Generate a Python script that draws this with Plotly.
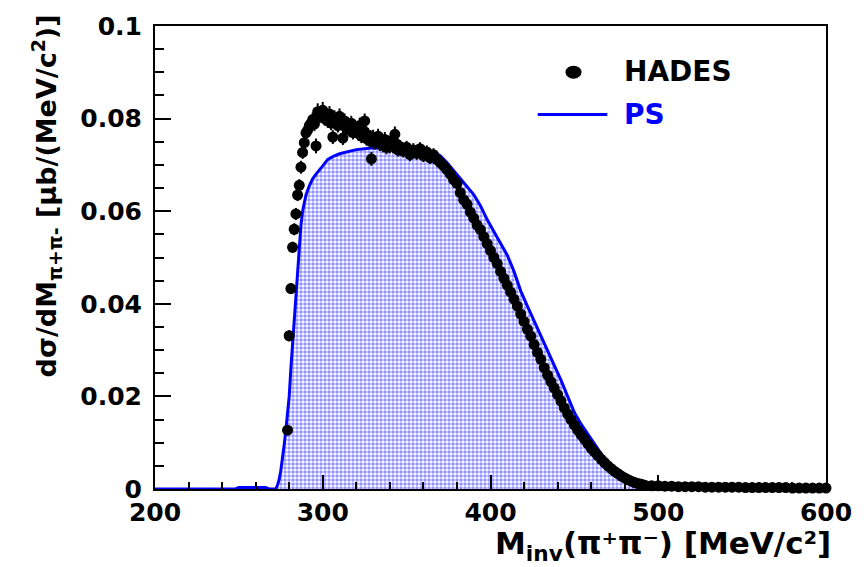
import plotly.graph_objects as go

# ---------------- data ----------------
# HADES data: invariant mass bins (MeV/c^2) and cross section (ub/(MeV/c^2))
hades_x1 = [279, 280, 281, 282, 283, 284, 285, 286, 287, 288, 289, 290,
            291, 292, 293, 294, 295, 296, 297, 298, 299, 300, 301, 302,
            303, 304, 305, 306, 307, 308, 309, 310, 311, 312, 313, 314,
            315, 316, 317, 318, 319, 320, 321, 322, 323, 324, 325, 326,
            327, 328, 329, 330, 331, 332, 333, 334, 335, 336, 337, 338,
            339, 340, 341, 342, 343, 344, 345, 346]
hades_y1 = [0.0127, 0.0331, 0.0433, 0.0522, 0.0561, 0.0594, 0.0635, 0.0656, 0.0695, 0.0727, 0.0748, 0.0769,
            0.0775, 0.0785, 0.0790, 0.0798, 0.0788, 0.0741, 0.0815, 0.0805, 0.0812, 0.0818, 0.0800, 0.0808,
            0.0795, 0.0810, 0.0790, 0.0760, 0.0802, 0.0795, 0.0785, 0.0805, 0.0790, 0.0758, 0.0795, 0.0780,
            0.0788, 0.0775, 0.0790, 0.0770, 0.0782, 0.0776, 0.0768, 0.0785, 0.0762, 0.0775, 0.0795, 0.0757,
            0.0765, 0.0752, 0.0713, 0.0760, 0.0748, 0.0755, 0.0762, 0.0745, 0.0750, 0.0742, 0.0755, 0.0738,
            0.0748, 0.0740, 0.0752, 0.0740, 0.0766, 0.0745, 0.0732, 0.0740]
hades_e1 = [0.0010, 0.0012, 0.0012, 0.0012, 0.0013, 0.0013, 0.0013, 0.0013, 0.0014, 0.0014, 0.0014, 0.0014,
            0.0015, 0.0015, 0.0016, 0.0015, 0.0015, 0.0016, 0.0018, 0.0015, 0.0016, 0.0018, 0.0015, 0.0016,
            0.0015, 0.0017, 0.0015, 0.0015, 0.0016, 0.0015, 0.0015, 0.0017, 0.0015, 0.0015, 0.0016, 0.0015,
            0.0015, 0.0015, 0.0016, 0.0015, 0.0015, 0.0016, 0.0015, 0.0017, 0.0015, 0.0015, 0.0016, 0.0015,
            0.0015, 0.0015, 0.0015, 0.0016, 0.0015, 0.0015, 0.0016, 0.0015, 0.0015, 0.0015, 0.0016, 0.0015,
            0.0015, 0.0015, 0.0015, 0.0015, 0.0017, 0.0015, 0.0014, 0.0014]

hades_x2 = [348, 350, 352, 354, 356, 358, 360, 362, 364, 366, 368, 370,
            372, 374, 376, 378, 380, 382, 384, 386, 388, 390, 392, 394,
            396, 398, 400, 402, 404, 406, 408, 410, 412, 414, 416, 418,
            420, 422, 424, 426, 428, 430, 432, 434, 436, 438, 440, 442,
            444, 446, 448, 450, 452, 454, 456, 458, 460, 462, 464, 466,
            468, 470, 472, 474, 476, 478, 480, 482, 484, 486, 488, 490]
hades_y2 = [0.0730, 0.0738, 0.0722, 0.0732, 0.0725, 0.0735, 0.0720, 0.0728, 0.0715, 0.0722, 0.0712, 0.0705,
            0.0698, 0.0690, 0.0680, 0.0668, 0.0660, 0.0640, 0.0625, 0.0615, 0.0598, 0.0585, 0.0570, 0.0560,
            0.0545, 0.0530, 0.0515, 0.0500, 0.0487, 0.0470, 0.0455, 0.0440, 0.0425, 0.0410, 0.0395, 0.0378,
            0.0362, 0.0345, 0.0330, 0.0312, 0.0295, 0.0280, 0.0262, 0.0246, 0.0232, 0.0218, 0.0204, 0.0190,
            0.0175, 0.0162, 0.0150, 0.0138, 0.0127, 0.0117, 0.0108, 0.0098, 0.0088, 0.0080, 0.0072, 0.0064,
            0.0057, 0.0050, 0.0044, 0.0038, 0.0033, 0.0028, 0.0024, 0.0020, 0.0017, 0.0014, 0.0012, 0.0010]
hades_e2 = [0.0014, 0.0014, 0.0014, 0.0015, 0.0014, 0.0014, 0.0014, 0.0014, 0.0013, 0.0014, 0.0013, 0.0013,
            0.0013, 0.0013, 0.0013, 0.0012, 0.0012, 0.0012, 0.0012, 0.0012, 0.0012, 0.0012, 0.0011, 0.0011,
            0.0011, 0.0011, 0.0011, 0.0011, 0.0010, 0.0010, 0.0010, 0.0010, 0.0010, 0.0010, 0.0010, 0.0010,
            0.0009, 0.0009, 0.0009, 0.0009, 0.0009, 0.0009, 0.0009, 0.0008, 0.0008, 0.0008, 0.0008, 0.0008,
            0.0008, 0.0008, 0.0007, 0.0007, 0.0007, 0.0007, 0.0007, 0.0007, 0.0006, 0.0006, 0.0006, 0.0006,
            0.0006, 0.0006, 0.0005, 0.0005, 0.0005, 0.0005, 0.0005, 0.0005, 0.0005, 0.0005, 0.0005, 0.0005]

hades_x3 = [492, 496, 500, 504, 508, 512, 516, 520, 524, 528, 532, 536, 540, 544,
            548, 552, 556, 560, 564, 568, 572, 576, 580, 584, 588, 592, 596, 600]
hades_y3 = [0.0008, 0.0007, 0.0007, 0.0006, 0.0006, 0.0005, 0.0005, 0.0005, 0.0005, 0.0004, 0.0004, 0.0004, 0.0004, 0.0004,
            0.0004, 0.0003, 0.0003, 0.0003, 0.0003, 0.0003, 0.0003, 0.0003, 0.0002, 0.0002, 0.0002, 0.0002, 0.0002, 0.0002]
hades_e3 = [0.0005, 0.0004, 0.0004, 0.0004, 0.0004, 0.0004, 0.0004, 0.0006, 0.0004, 0.0004, 0.0004, 0.0004, 0.0004, 0.0004,
            0.0004, 0.0004, 0.0004, 0.0004, 0.0005, 0.0004, 0.0004, 0.0004, 0.0004, 0.0004, 0.0004, 0.0004, 0.0004, 0.0004]

# Phase-space (PS) simulation
ps_x = [200, 248, 250, 266, 268, 272, 273, 274, 275, 276, 277, 278, 279, 280, 281, 282,
        283, 284, 285, 286, 287, 288, 290, 292, 294, 296, 298, 300, 303, 306, 310, 315,
        320, 325, 330, 340, 350, 360, 366, 370, 374, 378, 382, 386, 390, 394, 398, 402,
        406, 410, 414, 418, 422, 426, 430, 434, 438, 442, 446, 450, 454, 458, 462, 466,
        470, 474, 478, 482, 486, 490, 500, 600]
ps_y = [0.0, 0.0, 0.0003, 0.0003, 0.0, 0.0, 0.0008, 0.0020, 0.0040, 0.0065, 0.0095, 0.0127, 0.0160, 0.0200, 0.0260, 0.0310,
        0.0360, 0.0420, 0.0480, 0.0530, 0.0570, 0.0600, 0.0635, 0.0655, 0.0670, 0.0680, 0.0690, 0.0698, 0.0712, 0.0718, 0.0724, 0.0729,
        0.0733, 0.0735, 0.0737, 0.0735, 0.0733, 0.0730, 0.0728, 0.0720, 0.0705, 0.0688, 0.0670, 0.0655, 0.0636, 0.0612, 0.0582, 0.0556,
        0.0532, 0.0505, 0.0470, 0.0428, 0.0395, 0.0362, 0.0330, 0.0298, 0.0267, 0.0235, 0.0200, 0.0165, 0.0140, 0.0118, 0.0097, 0.0076,
        0.0057, 0.0040, 0.0024, 0.0012, 0.0005, 0.0, 0.0, 0.0]

x_ticks = [200, 300, 400, 500, 600]
y_ticks = [0, 0.02, 0.04, 0.06, 0.08, 0.1]
y_tick_text = ["0", "0.02", "0.04", "0.06", "0.08", "0.1"]

hades_x = hades_x1 + hades_x2 + hades_x3
hades_y = hades_y1 + hades_y2 + hades_y3
hades_e = hades_e1 + hades_e2 + hades_e3

# ---------------- figure ----------------
FONT = "DejaVu Sans"
W, H = 864, 567
L, R, T, B = 155, 34, 18, 78
PW, PH = W - L - R, H - T - B


def px(X):
    return (X - L) / PW


def py(Y):
    return (H - B - Y) / PH


fig = go.Figure()

fig.add_trace(go.Scatter(
    x=ps_x, y=ps_y, mode="lines", name="PS",
    line=dict(color="#0000ff", width=3),
    fill="tozeroy",
    fillpattern=dict(shape=".", fgcolor="#2a2aff", bgcolor="white", size=4, solidity=0.6),
    showlegend=False, cliponaxis=False,
))

fig.add_trace(go.Scatter(
    x=hades_x, y=hades_y, mode="markers", name="HADES",
    marker=dict(color="black", size=11, symbol="circle"),
    error_y=dict(type="data", array=hades_e, visible=True, color="black", thickness=2, width=0),
    showlegend=False, cliponaxis=False,
))

axis_common = dict(
    showgrid=False, zeroline=False, showline=True, linecolor="black", linewidth=2,
    mirror=True, ticks="inside", tickcolor="black", tickwidth=1.5,
    tickfont=dict(family=FONT, size=25, color="black", weight="bold"),
)

fig.update_xaxes(range=[200, 600], tickvals=x_ticks, ticklen=14,
                 minor=dict(dtick=20, ticklen=7, ticks="inside", tickcolor="black", tickwidth=1.5),
                 ticklabelstandoff=0, **axis_common)
fig.update_yaxes(range=[0, 0.1], tickvals=y_ticks, ticktext=y_tick_text, ticklen=16,
                 minor=dict(dtick=0.005, ticklen=9, ticks="inside", tickcolor="black", tickwidth=1.5),
                 ticklabelstandoff=6, **axis_common)

annotations = [
    # x-axis title
    dict(text="M<sub>inv</sub>(π⁺π⁻) [MeV/c²]",
         xref="paper", yref="paper", x=px(836), y=py(568), xanchor="right", yanchor="bottom",
         borderpad=0, showarrow=False, font=dict(family=FONT, size=31, color="black", weight="bold")),
    # y-axis title
    dict(text="dσ/dM<sub>π+π-</sub> [μb/(MeV/c<sup>2</sup>)]",
         xref="paper", yref="paper", x=px(46), y=py(4), xanchor="center", yanchor="top",
         textangle=-90, showarrow=False,
         font=dict(family=FONT, size=27, color="black", weight="bold")),
    # legend labels
    dict(text="HADES", xref="paper", yref="paper", x=px(625), y=py(64), xanchor="left", yanchor="middle",
         showarrow=False, font=dict(family=FONT, size=28, color="black", weight="bold")),
    dict(text="PS", xref="paper", yref="paper", x=px(625), y=py(108), xanchor="left", yanchor="middle",
         showarrow=False, font=dict(family=FONT, size=28, color="#0000ff", weight="bold")),
]

shapes = [
    dict(type="circle", xref="paper", yref="paper", xsizemode="pixel", ysizemode="pixel",
         xanchor=px(576), yanchor=py(65), x0=-8, x1=8, y0=-6.5, y1=6.5,
         fillcolor="black", line=dict(color="black", width=0)),
    dict(type="line", xref="paper", yref="paper", x0=px(540), x1=px(610), y0=py(108), y1=py(108),
         line=dict(color="#0000ff", width=3)),
]

fig.update_layout(
    width=W, height=H, margin=dict(l=L, r=R, t=T, b=B),
    plot_bgcolor="white", paper_bgcolor="white",
    annotations=annotations, shapes=shapes, showlegend=False,
)

fig.write_html("out.html")
